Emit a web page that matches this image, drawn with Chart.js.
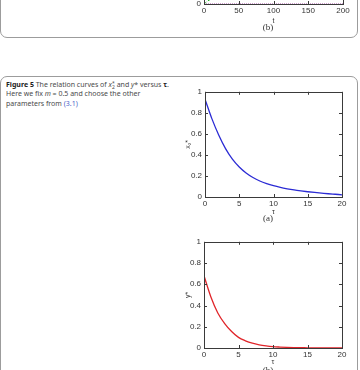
<!DOCTYPE html>
<html>
<head>
<meta charset="utf-8">
<script src="https://cdn.jsdelivr.net/npm/chart.js@4.4.0/dist/chart.umd.min.js"></script>
<style>
  body { margin: 0; width: 360px; height: 370px; overflow: hidden; background: #fff; position: relative; }
  .box { position: absolute; border: 1px solid #9c9c9c; border-radius: 7px; }
  .wrap { position: absolute; }
  .caption { position: absolute; left: 6px; top: 80px; width: 175px; font-family: 'Noto Sans', sans-serif; font-size: 7px; line-height: 9.4px; color: #4a4a4a; }
  .caption b { color: #222; }
  .caption .ref { color: #4a5fc8; }
  .ss { display: inline-block; vertical-align: -2px; line-height: 4px; font-size: 5px; text-align: left; }
  .sub { font-family: 'Liberation Serif', serif; font-size: 9px; position: absolute; color: #333; transform: translateX(-50%); }
</style>
</head>
<body>
<div class="box" style="left:0; top:-50px; width:356px; height:86px;"></div>
<div class="box" style="left:0; top:76px; width:356px; height:400px;"></div>

<div class="caption"><b>Figure 5</b> The relation curves of <i>x</i><span class="ss">*<br>2</span> and <i>y</i>* versus <b>τ</b>.<br>Here we fix <i>m</i> = 0.5 and choose the other<br>parameters from <span class="ref">(3.1)</span></div>

<div class="wrap" style="left:180px; top:-120px; width:172px; height:150px;"><canvas id="prevChart"></canvas></div>
<div class="sub" style="left:268px; top:22px;">(b)</div>

<div class="wrap" style="left:180px; top:84px; width:172px; height:134px;"><canvas id="chartA"></canvas></div>
<div class="sub" style="left:268px; top:213px;">(a)</div>

<div class="wrap" style="left:180px; top:234px; width:172px; height:134px;"><canvas id="chartB"></canvas></div>
<div class="sub" style="left:268px; top:365px;">(b)</div>

<script>
// tail of the previous figure (only its bottom edge is on the page)
const tPrev = [0, 2, 5, 12, 50, 100, 150, 200];
const prevRed = [0, 0.5, 0.9, 1, 1, 1, 1, 1];
const prevGreen = [0, 0.01, 0.025, 0.05, 0.3, 0.5, 0.6, 0.65];
const prevMagenta = [0, 0, 0, 0, 0, 0, 0, 0];
const tTicks = [0, 50, 100, 150, 200];

// figure 5 data
const tau = [0, 1, 2, 3, 4, 5, 6, 7, 8, 9, 10, 11, 12, 13, 14, 15, 16, 17, 18, 19, 20];
const x2Star = [0.93, 0.745, 0.59, 0.46, 0.36, 0.285, 0.228, 0.185, 0.152, 0.127, 0.107, 0.091, 0.078, 0.067, 0.058, 0.05, 0.043, 0.037, 0.031, 0.026, 0.021];
const yStar = [0.68, 0.48, 0.33, 0.23, 0.155, 0.1, 0.068, 0.045, 0.03, 0.02, 0.013, 0.009, 0.006, 0.004, 0.003, 0.002, 0.001, 0.001, 0.0005, 0.0003, 0.0002];
const tauTicks = [0, 5, 10, 15, 20];
const yTicks = [0, 0.2, 0.4, 0.6, 0.8, 1];

const tickFont = { family: 'Liberation Sans', size: 8 };
const toPoints = (xs, ys) => xs.map((x, i) => ({ x: x, y: ys[i] }));

// matlab style box with inward ticks on all four sides
const matlabFrame = {
  id: 'matlabFrame',
  afterDatasetsDraw(chart) {
    const { ctx, chartArea: a, scales } = chart;
    ctx.save();
    ctx.strokeStyle = '#3a3a3a';
    ctx.lineWidth = 1;
    ctx.strokeRect(Math.round(a.left) + 0.5, Math.round(a.top) + 0.5, Math.round(a.right - a.left), Math.round(a.bottom - a.top));
    ctx.beginPath();
    scales.x.ticks.forEach((t) => {
      const px = Math.round(scales.x.getPixelForValue(t.value)) + 0.5;
      ctx.moveTo(px, a.bottom); ctx.lineTo(px, a.bottom - 3);
      ctx.moveTo(px, a.top); ctx.lineTo(px, a.top + 3);
    });
    scales.y.ticks.forEach((t) => {
      const py = Math.round(scales.y.getPixelForValue(t.value)) + 0.5;
      ctx.moveTo(a.left, py); ctx.lineTo(a.left + 3, py);
      ctx.moveTo(a.right, py); ctx.lineTo(a.right - 3, py);
    });
    ctx.stroke();
    ctx.restore();
  }
};

function makeChart(id, datasets, opts) {
  return new Chart(document.getElementById(id), {
    type: 'line',
    data: { datasets: datasets },
    plugins: [matlabFrame],
    options: {
      responsive: true,
      maintainAspectRatio: false,
      animation: false,
      layout: { padding: { top: opts.top, right: opts.right, left: 0, bottom: 0 } },
      plugins: { legend: { display: false }, tooltip: { enabled: false } },
      elements: { point: { radius: 0 } },
      scales: {
        x: {
          type: 'linear',
          min: opts.xMin, max: opts.xMax,
          afterBuildTicks: (s) => { s.ticks = opts.xTicks.map((v) => ({ value: v })); },
          afterFit: (s) => { s.height = opts.xHeight; },
          grid: { display: false, drawTicks: false },
          border: { display: false },
          ticks: { font: tickFont, color: '#333', padding: 2, maxRotation: 0, callback: (v) => String(v) },
          title: { display: true, text: opts.xTitle, font: { family: 'Liberation Sans', size: 7 }, color: '#333', padding: { top: 0, bottom: opts.xTitlePad } }
        },
        y: {
          min: 0, max: 1,
          afterBuildTicks: (s) => { s.ticks = yTicks.map((v) => ({ value: v })); },
          afterFit: (s) => { s.width = opts.yWidth; },
          grid: { display: false, drawTicks: false },
          border: { display: false },
          ticks: { font: tickFont, color: '#333', padding: 3, callback: (v) => String(v) },
          title: { display: !!opts.yTitle, text: opts.yTitle, font: { family: 'Liberation Sans', size: 7 }, color: '#333', padding: { top: 4, bottom: 0 } }
        }
      }
    }
  });
}

makeChart('prevChart', [
  { data: toPoints(tPrev, prevMagenta), borderColor: '#a040a0', borderWidth: 1, borderDash: [1, 1] },
  { data: toPoints(tPrev, prevGreen), borderColor: '#20b020', borderWidth: 1, borderDash: [3, 2] },
  { data: toPoints(tPrev, prevRed), borderColor: '#e02020', borderWidth: 1 }
], { top: 6, right: 9, xMin: 0, xMax: 200, xTicks: tTicks, xHeight: 26, xTitle: 't', xTitlePad: 5, yWidth: 24, yTitle: '' });

makeChart('chartA', [
  { data: toPoints(tau, x2Star), borderColor: '#2b2bd4', borderWidth: 1.3, cubicInterpolationMode: 'monotone' }
], { top: 6, right: 10, xMin: 0, xMax: 20, xTicks: tauTicks, xHeight: 21, xTitle: 'τ', xTitlePad: 2, yWidth: 25, yTitle: 'x₂*' });

makeChart('chartB', [
  { data: toPoints(tau, yStar), borderColor: '#e0252a', borderWidth: 1.3, cubicInterpolationMode: 'monotone' }
], { top: 6, right: 10, xMin: 0, xMax: 20, xTicks: tauTicks, xHeight: 20, xTitle: 'τ', xTitlePad: 2, yWidth: 24, yTitle: 'y*' });
</script>
</body>
</html>
